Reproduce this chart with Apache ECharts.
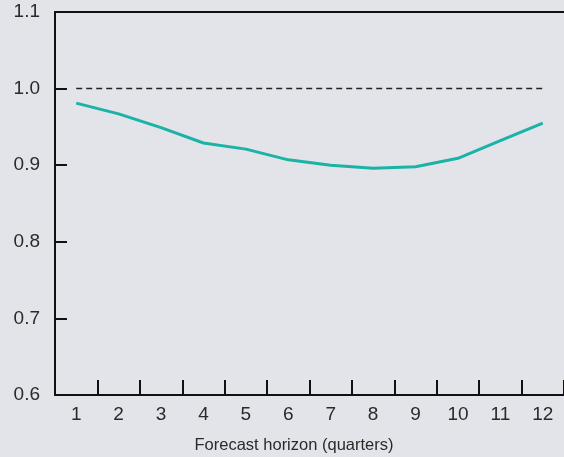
<!DOCTYPE html>
<html><head><meta charset="utf-8">
<script src="https://cdn.jsdelivr.net/npm/echarts@6/dist/echarts.min.js"></script>
<style>html,body{margin:0;padding:0;background:#e3e3ea;}#c{width:564px;height:457px;}</style>
</head><body><div id="c"></div>
<script>
const categories = ['1','2','3','4','5','6','7','8','9','10','11','12'];
const ratioValues = [0.981, 0.967, 0.949, 0.929, 0.921, 0.907, 0.900, 0.896, 0.898, 0.909, 0.932, 0.955];
const referenceValues = [1,1,1,1,1,1,1,1,1,1,1,1];
const yTicks = [0.6, 0.7, 0.8, 0.9, 1.0, 1.1];
const xAxisTitle = 'Forecast horizon (quarters)';

const chart = echarts.init(document.getElementById('c'));
const font = 'Liberation Sans, Arial, sans-serif';
chart.setOption({
  backgroundColor: '#e3e3ea',
  animation: false,
  title: {
    text: xAxisTitle, left: 289, top: 432, textAlign: 'center',
    textStyle: {fontFamily: font, fontSize: 16.5, fontWeight: 'normal', color: '#2a2a2a'}
  },
  grid: {left: 55, right: -2, top: 12, bottom: 62},
  xAxis: [{
    type: 'category', data: categories, boundaryGap: true,
    axisLine: {lineStyle: {color: '#111', width: 2}},
    axisTick: {show: true, inside: true, length: 15, alignWithLabel: false, lineStyle: {color: '#111', width: 2}},
    axisLabel: {fontFamily: font, fontSize: 19, color: '#2a2a2a', margin: 10},
    splitLine: {show: false}
  }, {
    type: 'category', data: categories, position: 'top',
    axisLine: {show: true, lineStyle: {color: '#111', width: 2}},
    axisTick: {show: false}, axisLabel: {show: false}, splitLine: {show: false}
  }],
  yAxis: {
    type: 'value', min: yTicks[0], max: yTicks[yTicks.length-1], interval: 0.1,
    axisLine: {show: true, lineStyle: {color: '#111', width: 2}},
    axisTick: {show: true, inside: true, length: 12, lineStyle: {color: '#111', width: 2}},
    axisLabel: {fontFamily: font, fontSize: 19, color: '#2a2a2a', margin: 15, padding: [3, 0, 0, 0], formatter: v => v.toFixed(1)},
    splitLine: {show: false}
  },
  series: [{
    type: 'line', data: referenceValues, showSymbol: false, silent: true,
    lineStyle: {color: '#222', width: 1.5, type: [6, 4]}
  }, {
    type: 'line', data: ratioValues, showSymbol: false,
    lineStyle: {color: '#1ab3a6', width: 3}
  }]
});
</script></body></html>
